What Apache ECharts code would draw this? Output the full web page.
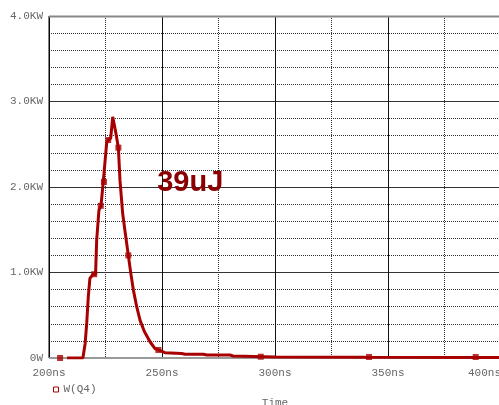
<!DOCTYPE html>
<html>
<head>
<meta charset="utf-8">
<script src="https://cdn.jsdelivr.net/npm/echarts@6/dist/echarts.min.js"></script>
<style>html,body{margin:0;padding:0;background:#fff;overflow:hidden}#c{width:499px;height:405px}</style>
</head>
<body>
<div id="c"></div>
<script>
// Time (ns) and power (W) of W(Q4)
const timeNs = [208.0, 215.0, 215.5, 216.0, 216.7, 217.4, 218.1, 219.6, 220.6, 221.1, 222.1, 223.0, 224.0, 225.5, 226.2, 227.3, 228.2, 229.6, 230.7, 231.4, 232.6, 233.6, 235.1, 236.2, 237.3, 238.8, 240.3, 242.2, 244.7, 246.9, 248.4, 251.3, 258.7, 260.2, 268.3, 269.8, 280.1, 281.4, 300.0, 340.0, 400.0];
const powerW = [0, 0, 20, 170, 410, 720, 930, 985, 975, 1380, 1730, 1780, 2060, 2510, 2550, 2570, 2820, 2630, 2460, 2080, 1690, 1490, 1200, 990, 800, 600, 440, 310, 190, 110, 94, 62, 52, 43, 43, 35, 35, 23, 12, 8, 6];
// Marker positions drawn on the trace
const markerNs = [204.9, 220.0, 222.9, 224.3, 226.2, 230.7, 235.1, 248.4, 293.7, 341.6, 388.8];
const markerW = [0, 980, 1780, 2060, 2550, 2460, 1200, 94, 15, 12, 12];
const seriesName = 'W(Q4)';
const annotation = '39uJ';

const el = document.getElementById('c');
const chart = echarts.init(el);
const mono = '"Liberation Mono", "DejaVu Sans Mono", monospace';
const red = '#a80000';
chart.setOption({
  animation: false,
  grid: {left: 49, top: 16, width: 452, height: 342, containLabel: false, outerBoundsMode: 'none'},
  legend: {
    data: [{name: seriesName, icon: 'rect'}],
    left: 48, top: 379,
    itemWidth: 5, itemHeight: 5, itemGap: 4,
    itemStyle: {color: '#fff', borderColor: red, borderWidth: 1},
    textStyle: {fontFamily: mono, fontSize: 11, color: '#666'}
  },
  xAxis: {
    type: 'value', min: 200, max: 400, interval: 50,
    name: 'Time', nameLocation: 'middle', nameGap: 40,
    nameTextStyle: {fontFamily: mono, fontSize: 11, color: '#666'},
    axisLine: {show: false},
    axisTick: {show: false},
    axisLabel: {formatter: v => v + 'ns', fontFamily: mono, fontSize: 11, color: '#666', margin: 10, alignMaxLabel: 'right'},
    splitLine: {show: true, lineStyle: {color: '#111', width: 1, type: 'solid'}},
    minorTick: {show: false, splitNumber: 2},
    minorSplitLine: {show: true, lineStyle: {color: '#333', width: 1, type: [1, 1]}}
  },
  yAxis: {
    type: 'value', min: 0, max: 4000, interval: 1000,
    axisLine: {show: false},
    axisTick: {show: false},
    axisLabel: {formatter: v => v === 0 ? '0W' : (v / 1000).toFixed(1) + 'KW', fontFamily: mono, fontSize: 11, color: '#666', margin: 6},
    splitLine: {show: true, lineStyle: {color: '#333', width: 1}},
    minorTick: {show: false, splitNumber: 5},
    minorSplitLine: {show: true, lineStyle: {color: '#333', width: 1, type: [1, 1]}}
  },
  graphic: [
    {type: 'line', shape: {x1: 49, y1: 16, x2: 49, y2: 358}, style: {stroke: '#000', lineWidth: 1}, z: 5},
    {type: 'line', shape: {x1: 49, y1: 16.5, x2: 499, y2: 16.5}, style: {stroke: '#888', lineWidth: 2}, z: 5},
    {type: 'line', shape: {x1: 49, y1: 358, x2: 499, y2: 358}, style: {stroke: '#999', lineWidth: 2}, z: 5}
  ],
  series: [
    {
      name: seriesName, type: 'line', showSymbol: false, z: 10,
      data: timeNs.map((t, i) => [t, powerW[i]]),
      lineStyle: {color: red, width: 3}, itemStyle: {color: red},
      markPoint: {
        symbol: 'rect', symbolSize: 1, silent: true,
        label: {show: true, formatter: annotation, fontFamily: 'Liberation Sans, Arial, sans-serif', fontWeight: 'bold', fontSize: 29, color: '#8b0000', offset: [0, 0]},
        itemStyle: {color: 'rgba(0,0,0,0)'},
        data: [{coord: [262.5, 2050]}]
      }
    },
    {
      name: seriesName, type: 'scatter', symbol: 'rect', symbolSize: 6, z: 11,
      data: markerNs.map((t, i) => [t, markerW[i]]),
      itemStyle: {color: red}
    }
  ]
});
</script>
</body>
</html>
